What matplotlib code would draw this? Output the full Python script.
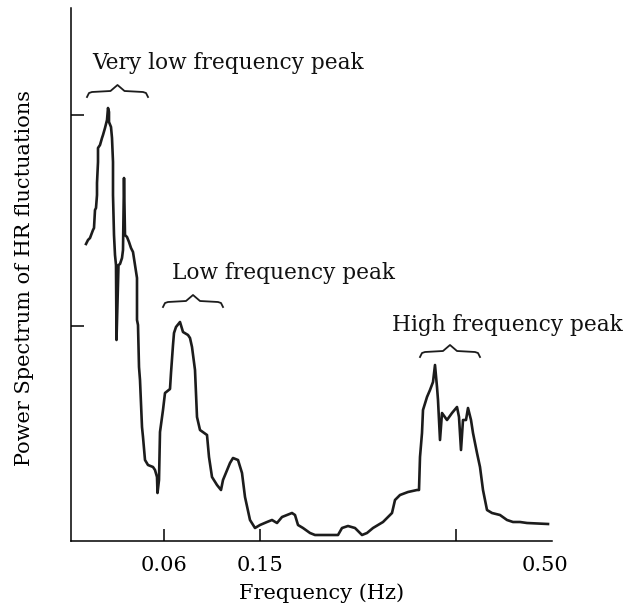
import matplotlib.pyplot as plt

# spectrum trace (horizontal position along axis, power height), arbitrary units
pos = [15, 17, 19, 22, 23, 24, 25, 26, 26, 27, 27, 29, 31, 32, 34, 36, 37, 38, 38, 40,
       41, 42, 42, 43, 44, 45, 45.5, 47.5, 49, 51, 52, 53, 54, 56, 58, 60, 62, 64, 66, 66,
       66, 67, 68, 69, 71, 72, 74, 77, 82, 84, 86, 86.5, 88, 89, 92, 94, 99, 100, 102, 103,
       105, 109, 112, 117, 119, 121, 124, 126, 129, 136, 138, 141, 146, 150, 152, 159, 162, 167, 171, 174,
       179, 184, 189, 196, 201, 206, 211, 216, 221, 224, 227, 232, 239, 244, 267, 271, 277, 284, 291, 296,
       302, 312, 321, 324, 329, 337, 346, 348, 349, 351, 352, 356, 359, 362, 364, 366, 367, 369, 371, 376,
       381, 386, 388, 390, 392, 395, 397, 400, 402, 406, 409, 412, 416, 421, 429, 436, 442, 449, 456, 477]
power = [297, 301, 303, 311, 313, 331, 333, 346, 358, 379, 393, 396, 403, 406, 413, 421, 433, 429, 419, 414,
         403, 379, 346, 306, 286, 276, 201, 276, 277, 283, 291, 363, 306, 304, 299, 293, 289, 276, 263, 241,
         221, 216, 174, 161, 114, 104, 81, 76, 74, 71, 64, 48, 61, 109, 131, 148, 152, 168, 196, 208,
         214, 219, 209, 206, 203, 194, 171, 124, 111, 106, 84, 64, 56, 51, 61, 78, 83, 81, 68, 44,
         21, 13, 16, 19, 21, 18, 24, 26, 28, 26, 16, 13, 8, 6, 6, 13, 15, 13, 6, 8,
         13, 19, 28, 41, 46, 49, 51, 51, 84, 108, 131, 144, 151, 159, 176, 154, 141, 101, 128, 121,
         128, 134, 124, 91, 121, 121, 133, 121, 108, 88, 74, 51, 31, 28, 26, 21, 19, 19, 18, 17]

tick_pos = [93, 189, 385]
tick_labels = ['0.06', '0.15', '']
end_label = '0.50'
end_pos = 474
ytick_pos = [215, 426]

# peak annotations: label, text left, text y, bracket left, bracket right, bracket y
peaks = [
    ('Very low frequency peak', 21, 478, 16, 77, 449),
    ('Low frequency peak', 101, 268, 92, 152, 239),
    ('High frequency peak', 321, 216, 349, 409, 189),
]

plt.rcParams['font.family'] = 'DejaVu Serif'
fig = plt.figure(figsize=(6.26, 6.11), dpi=100)
ax = fig.add_axes([71 / 626, 1 - 541 / 611, 481 / 626, 533 / 611])

ax.plot(pos, power, color='#1c1c1c', lw=1.9)

for label, tx, ty, b0, b1, by in peaks:
    mid = (b0 + b1) / 2
    bx = [b0, b0 + 2, b0 + 5, mid - 7, mid, mid + 7, b1 - 5, b1 - 2, b1]
    byy = [by - 5, by - 1, by, by + 1, by + 7, by + 1, by, by - 1, by - 5]
    ax.plot(bx, byy, color='#1c1c1c', lw=1.3, clip_on=False)
    ax.text(tx, ty, label, fontsize=15.6, ha='left', va='center', color='#111')

ax.set_xlim(0, 481)
ax.set_ylim(0, 533)
for s in ['top', 'right']:
    ax.spines[s].set_visible(False)
for s in ['left', 'bottom']:
    ax.spines[s].set_linewidth(1.1)

ax.set_xticks(tick_pos, tick_labels)
ax.set_xticks([end_pos], [end_label], minor=True)
ax.set_yticks(ytick_pos, [])
ax.tick_params(axis='x', which='major', direction='in', length=9, width=1.1, pad=11, labelsize=15)
ax.tick_params(axis='x', which='minor', direction='in', length=0, pad=11, labelsize=15)
ax.tick_params(axis='y', direction='in', length=9, width=1.1)

ax.set_xlabel('Frequency (Hz)', fontsize=15)
ax.xaxis.set_label_coords(0.52, -0.098)
ax.xaxis.label.set_va('center')
ax.set_ylabel('Power Spectrum of HR fluctuations', fontsize=15)
ax.yaxis.set_label_coords(-0.096, 0.493)
ax.yaxis.label.set_va('center')

fig.savefig('out.png', dpi=100)
